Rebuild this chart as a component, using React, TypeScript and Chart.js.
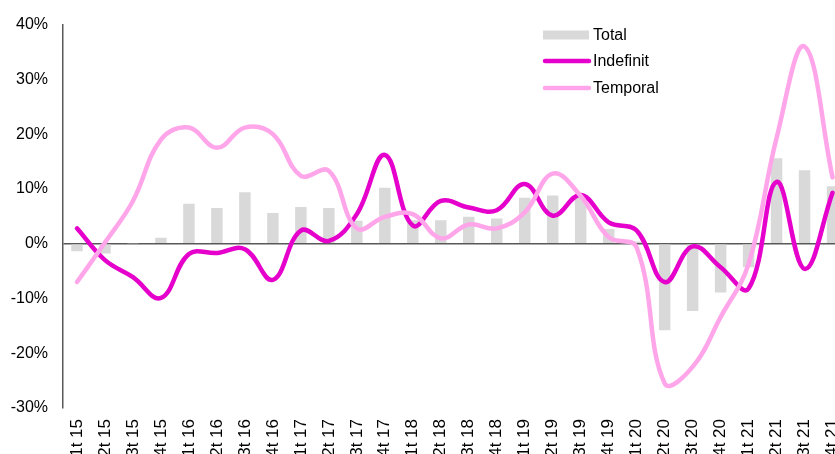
import React, { useEffect, useRef } from "react";
import { Chart, registerables } from "chart.js";

Chart.register(...registerables);

const categories = [
  "1t 15", "2t 15", "3t 15", "4t 15",
  "1t 16", "2t 16", "3t 16", "4t 16",
  "1t 17", "2t 17", "3t 17", "4t 17",
  "1t 18", "2t 18", "3t 18", "4t 18",
  "1t 19", "2t 19", "3t 19", "4t 19",
  "1t 20", "2t 20", "3t 20", "4t 20",
  "1t 21", "2t 21", "3t 21", "4t 21",
];

const totalValues = [
  -1.4, -1.8, 0.1, 1.1,
  7.3, 6.5, 9.4, 5.6,
  6.7, 6.5, 4.2, 10.2,
  4.3, 4.3, 4.9, 4.6,
  8.4, 8.8, 8.4, 2.7,
  0.4, -15.8, -12.3, -8.9,
  -4.3, 15.6, 13.4, 10.5,
];

const indefinitValues = [
  2.8, -3.0, -6.1, -9.9,
  -1.9, -1.7, -1.0, -6.6,
  2.4, 0.5, 5.4, 16.2,
  3.3, 7.8, 6.6, 6.1,
  10.9, 5.1, 8.9, 3.9,
  2.4, -7.0, -0.5, -4.3,
  -8.2, 11.3, -4.6, 9.3,
];

const temporalValues = [
  -7.0, 0.2, 7.8, 19.0,
  21.2, 17.5, 21.2, 20.0,
  12.4, 13.3, 2.8, 4.9,
  5.4, 1.0, 3.5, 2.8,
  5.7, 12.8, 8.7, 1.2,
  -0.7, -25.5, -22.5, -13.4,
  -3.7, 19.3, 36.0, 12.1,
];

const yTicks = [-30, -20, -10, 0, 10, 20, 30, 40];

const FONT = "'Liberation Sans', Arial, sans-serif";
const C_TOTAL = "#D9D9D9";
const C_INDEF = "#E600CC";
const C_TEMP = "#FFA6EA";
const C_AXIS = "#595959";

const legendPlugin = {
  id: "customLegend",
  afterDraw(chart: any) {
    const ctx = chart.ctx;
    ctx.save();
    const x0 = 543;
    const x1 = 589;
    const tx = 593;
    const rows = [
      { label: "Total", y: 35, kind: "box", color: C_TOTAL },
      { label: "Indefinit", y: 61, kind: "line", color: C_INDEF },
      { label: "Temporal", y: 88, kind: "line", color: C_TEMP },
    ];
    for (const r of rows) {
      if (r.kind === "box") {
        ctx.fillStyle = r.color;
        ctx.fillRect(x0, r.y - 4.5, x1 - x0, 9);
      } else {
        ctx.strokeStyle = r.color;
        ctx.lineWidth = 4.5;
        ctx.lineCap = "round";
        ctx.beginPath();
        ctx.moveTo(x0 + 2, r.y);
        ctx.lineTo(x1, r.y);
        ctx.stroke();
      }
      ctx.fillStyle = "#000";
      ctx.font = `16px ${FONT}`;
      ctx.textBaseline = "middle";
      ctx.textAlign = "left";
      ctx.fillText(r.label, tx, r.y + 1);
    }
    ctx.restore();
  },
};

export default function App() {
  const ref = useRef<HTMLCanvasElement>(null);

  useEffect(() => {
    if (!ref.current) return;
    const chart = new Chart(ref.current, {
      type: "bar",
      data: {
        labels: categories,
        datasets: [
          {
            type: "line",
            label: "Temporal",
            data: temporalValues,
            borderColor: C_TEMP,
            backgroundColor: C_TEMP,
            borderWidth: 4.5,
            tension: 0.4,
            pointRadius: 0,
            borderCapStyle: "round",
            fill: false,
            order: 0,
          } as any,
          {
            type: "line",
            label: "Indefinit",
            data: indefinitValues,
            borderColor: C_INDEF,
            backgroundColor: C_INDEF,
            borderWidth: 4.5,
            tension: 0.4,
            pointRadius: 0,
            borderCapStyle: "round",
            fill: false,
            order: 1,
          } as any,
          {
            type: "bar",
            label: "Total",
            data: totalValues,
            backgroundColor: C_TOTAL,
            borderWidth: 0,
            categoryPercentage: 1,
            barPercentage: 0.41,
            order: 2,
          } as any,
        ],
      },
      options: {
        responsive: false,
        animation: false,
        layout: { padding: { top: 23, right: 3, left: 0, bottom: 0 } },
        plugins: {
          legend: { display: false },
          tooltip: { enabled: false },
        },
        scales: {
          x: {
            offset: true,
            grid: { display: false, drawTicks: false },
            border: { display: false },
            ticks: {
              autoSkip: false,
              minRotation: 90,
              maxRotation: 90,
              padding: 11,
              color: "#000",
              font: { family: FONT, size: 17 },
            },
            afterFit(scale: any) {
              scale.height = 46;
            },
          },
          y: {
            min: -30,
            max: 40,
            afterBuildTicks(scale: any) {
              scale.ticks = yTicks.map((v) => ({ value: v }));
            },
            grid: {
              drawTicks: false,
              color: (c: any) => (c.tick && c.tick.value === 0 ? C_AXIS : "rgba(0,0,0,0)"),
              lineWidth: 1.5,
            },
            border: { display: true, color: C_AXIS, width: 1.5 },
            ticks: {
              padding: 15,
              color: "#000",
              font: { family: FONT, size: 16 },
              callback: (v: any) => `${v}%`,
            },
            afterFit(scale: any) {
              scale.width = 63;
            },
          },
        },
      },
      plugins: [legendPlugin],
    });
    return () => chart.destroy();
  }, []);

  return (
    <div
      style={{
        position: "fixed",
        left: 0,
        top: 0,
        width: 835,
        height: 454,
        overflow: "hidden",
        background: "#fff",
      }}
    >
      <canvas ref={ref} width={864} height={454} style={{ display: "block" }} />
    </div>
  );
}
